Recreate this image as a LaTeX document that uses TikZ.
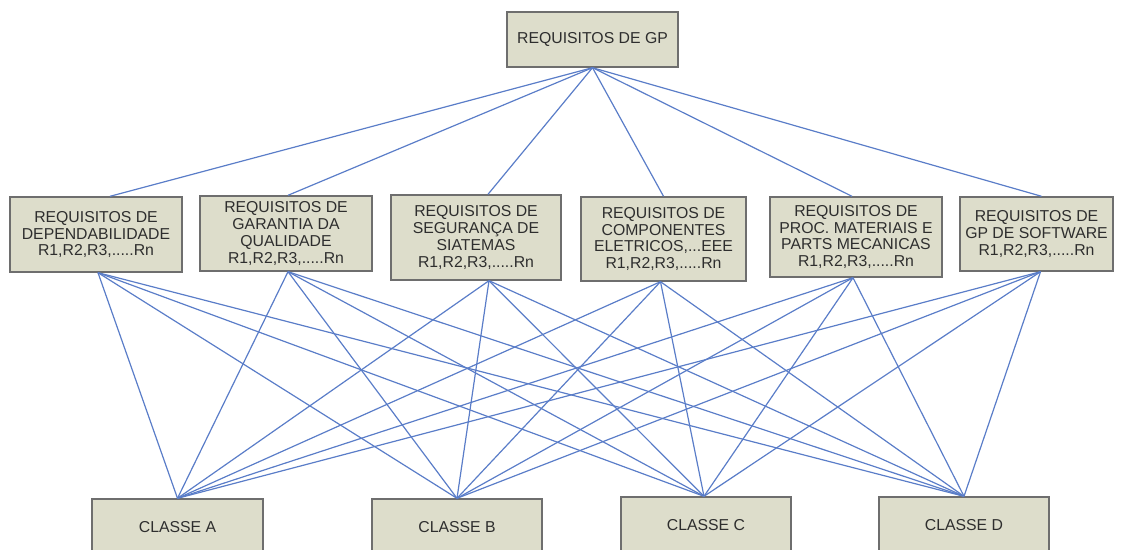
\documentclass[tikz,border=0pt]{standalone}
\usepackage{fontspec}
\setmainfont{Liberation Sans}
\usetikzlibrary{calc}
\definecolor{boxfill}{HTML}{DDDDCB}
\definecolor{boxline}{HTML}{6E6E6E}
\definecolor{linkblue}{HTML}{5A7DC8}
\definecolor{txt}{HTML}{2E2E2E}
\begin{document}
\begin{tikzpicture}[x=1pt,y=-1pt,
  box/.style={draw=boxline,line width=1.4pt,fill=boxfill,inner sep=0pt,
    align=center,text=txt,font=\fontsize{15.8}{16.8}\selectfont},
  link/.style={draw=linkblue,line width=1.2pt}]
\useasboundingbox (0,0) rectangle (1127,549);
\clip (0,0) rectangle (1127,549);

% root
\node[box,minimum width=171pt,minimum height=55pt] (root) at (592.5,39.5) {REQUISITOS DE GP};

% requirement groups
\node[box,minimum width=172pt,minimum height=75pt] (m1) at (96,234.5)
  {REQUISITOS DE\\DEPENDABILIDADE\\R1,R2,R3,.....Rn};
\node[box,minimum width=172pt,minimum height=75pt] (m2) at (286,233.5)
  {REQUISITOS DE\\GARANTIA DA\\QUALIDADE\\R1,R2,R3,.....Rn};
\node[box,minimum width=170pt,minimum height=85pt] (m3) at (476,237.5)
  {REQUISITOS DE\\SEGURANÇA DE\\SIATEMAS\\R1,R2,R3,.....Rn};
\node[box,minimum width=165pt,minimum height=84pt] (m4) at (663.5,239)
  {REQUISITOS DE\\COMPONENTES\\ELETRICOS,...EEE\\R1,R2,R3,.....Rn};
\node[box,minimum width=172pt,minimum height=80pt] (m5) at (856,237)
  {REQUISITOS DE\\PROC. MATERIAIS E\\PARTS MECANICAS\\R1,R2,R3,.....Rn};
\node[box,minimum width=153pt,minimum height=74pt] (m6) at (1036.5,234)
  {REQUISITOS DE\\GP DE SOFTWARE\\R1,R2,R3,.....Rn};

% classes
\node[box,minimum width=171pt,minimum height=56pt] (ca) at (177.5,527) {CLASSE A};
\node[box,minimum width=170pt,minimum height=56pt] (cb) at (457,527) {CLASSE B};
\node[box,minimum width=170pt,minimum height=56pt] (cc) at (706,525) {CLASSE C};
\node[box,minimum width=170pt,minimum height=56pt] (cd) at (964,525) {CLASSE D};

% attachment points
\coordinate (m1t) at ($(m1.north)+(14,0)$);
\coordinate (m2t) at ($(m2.north)+(2,0)$);
\coordinate (m3t) at ($(m3.north)+(12,0)$);
\coordinate (m4t) at (m4.north);
\coordinate (m5t) at ($(m5.north)+(-4,0)$);
\coordinate (m6t) at ($(m6.north)+(5,0)$);
\coordinate (m1b) at ($(m1.south)+(2,0)$);
\coordinate (m2b) at ($(m2.south)+(2,0)$);
\coordinate (m3b) at ($(m3.south)+(13,0)$);
\coordinate (m4b) at ($(m4.south)+(-3,0)$);
\coordinate (m5b) at ($(m5.south)+(-3,0)$);
\coordinate (m6b) at ($(m6.south)+(4,0)$);
\coordinate (cat) at (ca.north);
\coordinate (cbt) at (cb.north);
\coordinate (cct) at ($(cc.north)+(-2,0)$);
\coordinate (cdt) at (cd.north);

% root to groups
\foreach \m in {m1,m2,m3,m4,m5,m6}
  \draw[link] (root.south) -- (\m t);

% groups to classes
\foreach \m in {m1,m2,m3,m4,m5,m6}
  \foreach \c in {ca,cb,cc,cd}
    \draw[link] (\m b) -- (\c t);
\end{tikzpicture}
\end{document}
